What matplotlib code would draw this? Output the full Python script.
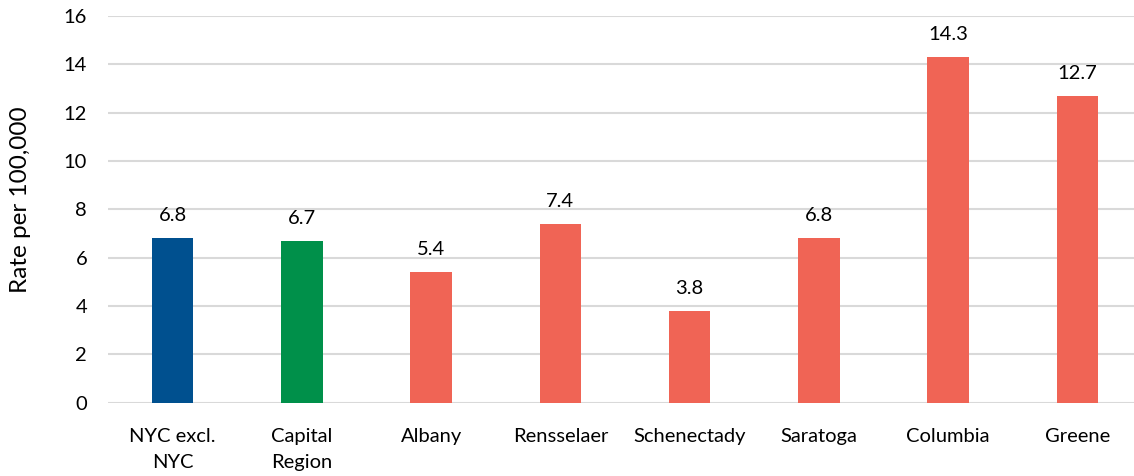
import matplotlib
matplotlib.use("Agg")
import matplotlib.pyplot as plt

# data
categories = ["NYC excl.\nNYC", "Capital\nRegion", "Albany", "Rensselaer",
              "Schenectady", "Saratoga", "Columbia", "Greene"]
rates = [6.8, 6.7, 5.4, 7.4, 3.8, 6.8, 14.3, 12.7]
bar_colors = ["#00508F", "#00904A", "#F06455", "#F06455",
              "#F06455", "#F06455", "#F06455", "#F06455"]
yticks = [0, 2, 4, 6, 8, 10, 12, 14, 16]

plt.rcParams['font.family'] = ['Lato', 'DejaVu Sans']

fig = plt.figure(figsize=(11.34, 4.76), dpi=100)
# axes runs slightly past the right edge, like the cropped original
ax = fig.add_axes([108 / 1134, 73.3 / 476, 1034 / 1134, 386.7 / 476])

x = list(range(len(categories)))
bars = ax.bar(x, rates, width=0.32, color=bar_colors, zorder=3)

for xi, v in zip(x, rates):
    ax.annotate(f"{v:.1f}", (xi, v), xytext=(0, 10), textcoords="offset points",
                ha="center", va="bottom", fontsize=14.5, color="#000000")

ax.set_xlim(-0.5, len(categories) - 0.5)
ax.set_ylim(0, 16)
ax.set_yticks(yticks)
ax.set_xticks(x)
ax.set_xticklabels(categories, fontsize=14.5, linespacing=1.65)
ax.tick_params(axis="y", length=0, pad=15, labelsize=14.5)
ax.tick_params(axis="x", length=0, pad=18)
ax.yaxis.grid(True, color="#D9D9D9", linewidth=1.5, zorder=0)
ax.set_axisbelow(True)
for s in ax.spines.values():
    s.set_visible(False)

ax.set_ylabel("Rate per 100,000", fontsize=17.5)
ax.yaxis.set_label_coords(-0.074, 0.525)

fig.savefig("out.png", dpi=100)
